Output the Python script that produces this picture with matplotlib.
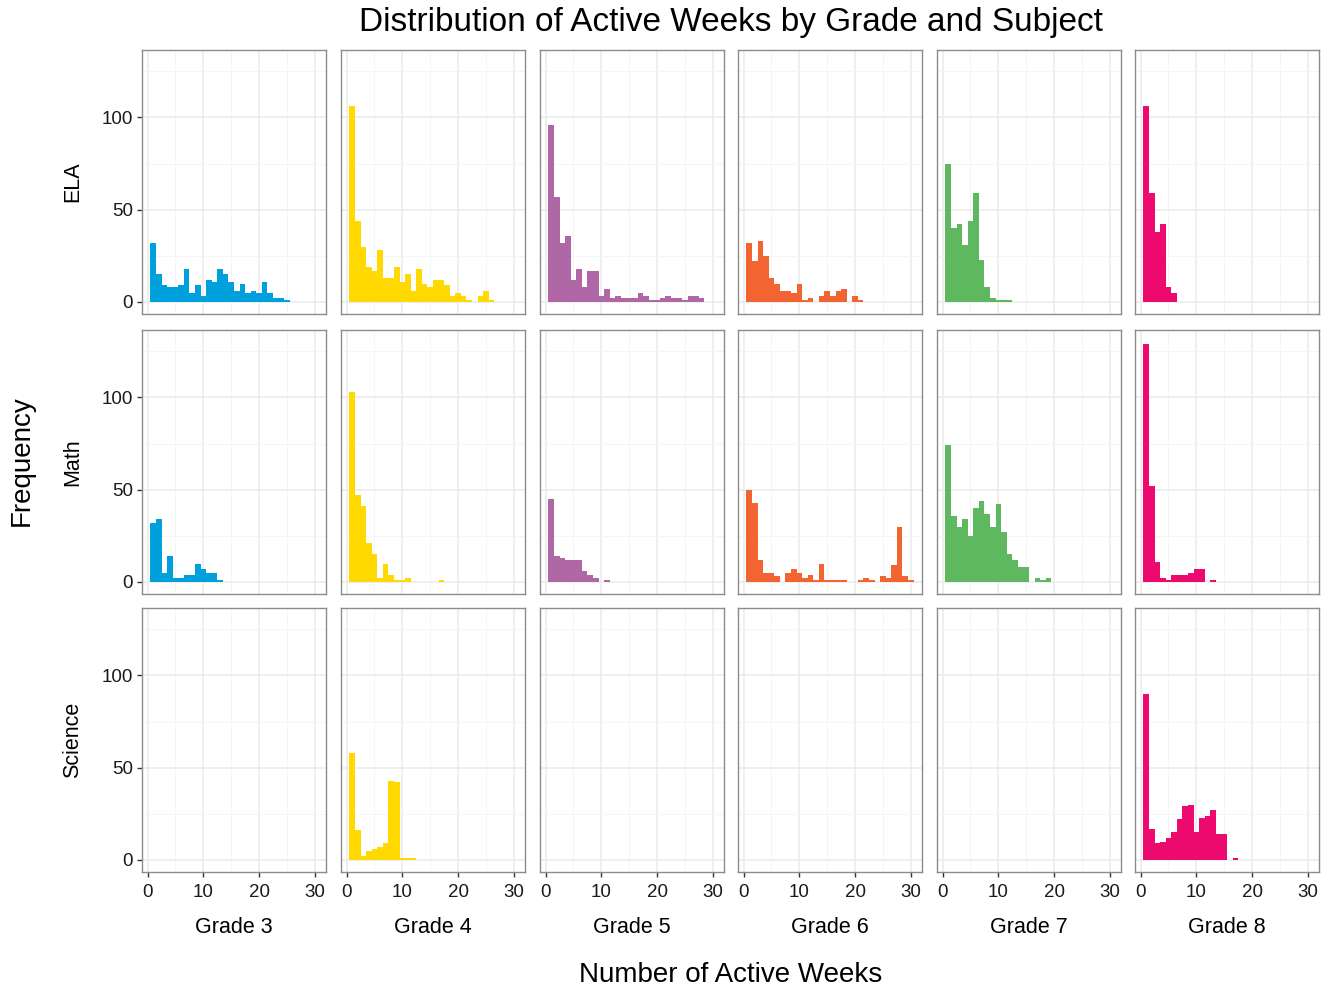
#!/usr/bin/env python3
from matplotlib import pyplot as plt
from matplotlib.ticker import MultipleLocator

plt.rcParams['font.family'] = ['Liberation Sans', 'DejaVu Sans']

grades = ['Grade 3', 'Grade 4', 'Grade 5', 'Grade 6', 'Grade 7', 'Grade 8']
subjects = ['ELA', 'Math', 'Science']
colors = ['#00A0DC', '#FFD900', '#B067A6', '#F26532', '#5DB860', '#EC0A6E']

# counts per week, index 0 = week 1
ela_g3 = [32, 15, 9, 8, 8, 9, 18, 5, 9, 3, 12, 11, 18, 15, 11, 6, 10, 5, 6, 5, 11, 5, 2, 2, 1]
ela_g4 = [106, 44, 30, 19, 17, 28, 13, 13, 19, 11, 15, 6, 18, 10, 8, 12, 12, 9, 3, 5, 3, 1, 0, 3, 6, 1]
ela_g5 = [96, 57, 32, 36, 12, 18, 8, 17, 17, 3, 7, 2, 3, 2, 2, 2, 5, 3, 1, 1, 2, 3, 2, 2, 1, 3, 3, 2]
ela_g6 = [32, 22, 33, 25, 13, 10, 6, 6, 5, 10, 1, 2, 0, 3, 6, 3, 6, 7, 0, 3, 1]
ela_g7 = [75, 40, 42, 31, 44, 59, 23, 8, 2, 1, 1, 1]
ela_g8 = [106, 59, 38, 42, 8, 5]

math_g3 = [32, 34, 5, 14, 2, 2, 4, 4, 10, 7, 5, 5, 1]
math_g4 = [103, 47, 41, 21, 15, 2, 10, 4, 1, 1, 2, 0, 0, 0, 0, 0, 1]
math_g5 = [45, 14, 13, 12, 12, 12, 6, 4, 2, 0, 1]
math_g6 = [50, 43, 12, 5, 5, 3, 0, 5, 7, 5, 2, 4, 1, 10, 1, 1, 1, 1, 0, 0, 1, 2, 1, 0, 3, 2, 9, 30, 3, 1]
math_g7 = [74, 36, 30, 34, 25, 40, 44, 37, 30, 42, 27, 15, 12, 8, 8, 0, 2, 1, 2]
math_g8 = [129, 52, 11, 2, 1, 4, 4, 4, 5, 7, 7, 0, 1]

sci_g3 = []
sci_g4 = [58, 16, 2, 5, 6, 7, 9, 43, 42, 1, 1, 1]
sci_g5 = []
sci_g6 = []
sci_g7 = []
sci_g8 = [90, 17, 9, 10, 12, 15, 22, 29, 30, 15, 23, 24, 27, 14, 14, 0, 1]

data = [
    [ela_g3, ela_g4, ela_g5, ela_g6, ela_g7, ela_g8],
    [math_g3, math_g4, math_g5, math_g6, math_g7, math_g8],
    [sci_g3, sci_g4, sci_g5, sci_g6, sci_g7, sci_g8],
]

W, H = 1336, 992
fig = plt.figure(figsize=(W / 100, H / 100), dpi=100)

col_left = [142, 341, 540, 738, 937, 1135]
row_top = [50, 330, 608]
pw, ph = 184, 264

for r in range(3):
    for c in range(6):
        x0, y0 = col_left[c], row_top[r]
        ax = fig.add_axes([x0 / W, 1 - (y0 + ph) / H, pw / W, ph / H])
        counts = data[r][c]
        weeks = list(range(1, len(counts) + 1))
        if counts:
            ax.bar(weeks, counts, width=1.0, color=colors[c], linewidth=0)
        ax.set_xlim(-1, 32)
        ax.set_ylim(-6.5, 136.5)
        ax.xaxis.set_major_locator(MultipleLocator(10))
        ax.xaxis.set_minor_locator(MultipleLocator(5))
        ax.yaxis.set_major_locator(MultipleLocator(50))
        ax.yaxis.set_minor_locator(MultipleLocator(25))
        ax.grid(True, which='major', color='#EBEBEB', linewidth=1.1)
        ax.grid(True, which='minor', color='#F4F4F4', linewidth=0.6)
        ax.set_axisbelow(True)
        for s in ax.spines.values():
            s.set_color('#8C8C8C')
            s.set_linewidth(1.0)
        ax.tick_params(which='minor', length=0)
        ax.tick_params(which='major', length=3.6, width=1, color='#333333',
                       labelsize=13.5, labelcolor='#1A1A1A', pad=3)
        ax.tick_params(axis='x', which='major', pad=5)
        if c != 0:
            ax.tick_params(axis='y', which='major', length=0, labelleft=False)
        else:
            ax.set_ylabel(subjects[r], fontsize=15.5, labelpad=13)
        if r != 2:
            ax.tick_params(axis='x', which='major', length=0, labelbottom=False)
        else:
            ax.set_xlabel(grades[c], fontsize=15.5, labelpad=11.5)

fig.text(731 / W, 1 - 22 / H, 'Distribution of Active Weeks by Grade and Subject',
         ha='center', va='center', fontsize=24)
fig.text(731 / W, 1 - 975 / H, 'Number of Active Weeks', ha='center', va='center', fontsize=20)
fig.text(22 / W, 1 - 461 / H, 'Frequency', ha='center', va='center', fontsize=20, rotation=90)

fig.savefig('out.png', dpi=100, facecolor='white')
